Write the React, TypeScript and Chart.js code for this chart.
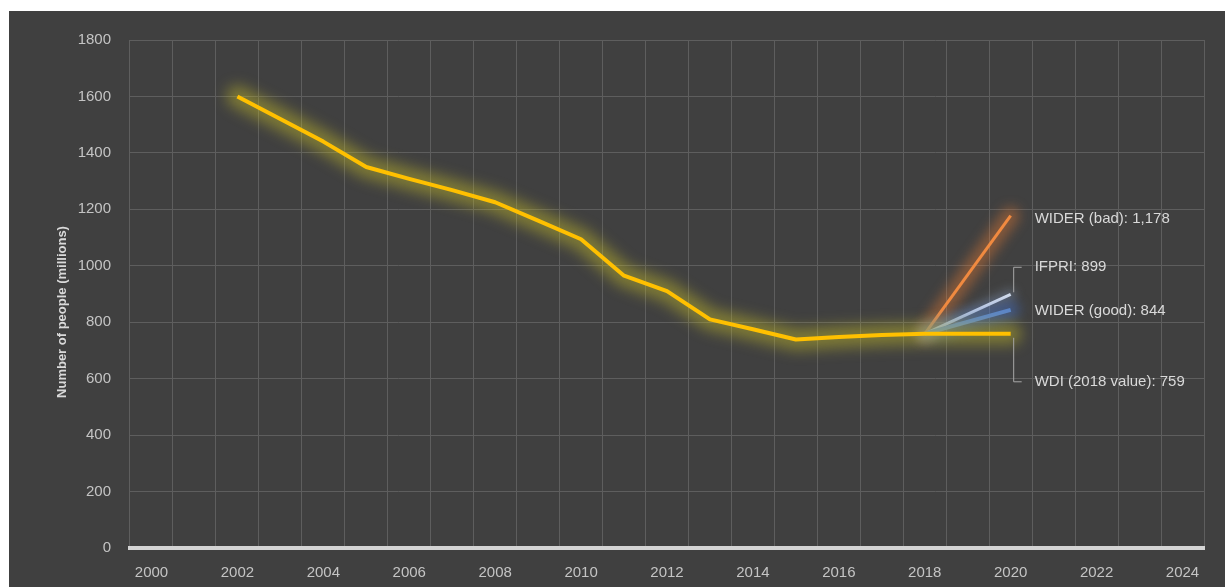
import React, { useEffect, useRef } from "react";
import { Chart, registerables } from "chart.js";

Chart.register(...registerables);

const years = [
  "2000", "2001", "2002", "2003", "2004", "2005", "2006", "2007", "2008", "2009",
  "2010", "2011", "2012", "2013", "2014", "2015", "2016", "2017", "2018", "2019",
  "2020", "2021", "2022", "2023", "2024",
];

const wdi = [
  null, null, 1600, 1520, 1440, 1350, 1308, 1268, 1225, 1160,
  1094, 965, 910, 810, 775, 739, 748, 755, 759, 759,
  759, null, null, null, null,
];

const widerBad = [
  null, null, null, null, null, null, null, null, null, null,
  null, null, null, null, null, null, null, null, 759, null,
  1178, null, null, null, null,
];

const ifpri = [
  null, null, null, null, null, null, null, null, null, null,
  null, null, null, null, null, null, null, null, 759, null,
  899, null, null, null, null,
];

const widerGood = [
  null, null, null, null, null, null, null, null, null, null,
  null, null, null, null, null, null, null, null, 759, null,
  844, null, null, null, null,
];

const endLabels = [
  "WIDER (bad): 1,178",
  "IFPRI: 899",
  "WIDER (good): 844",
  "WDI (2018 value): 759",
];
const endValues = [1178, 899, 844, 759];

const yTitle = "Number of people (millions)";

const glowPlugin = {
  id: "glow",
  beforeDatasetDraw(chart: any, args: any) {
    const ds: any = chart.data.datasets[args.index];
    if (!ds.glowColor) return;
    const ctx = chart.ctx;
    const pts = args.meta.data.filter((_p: any, i: number) => ds.data[i] != null);
    ctx.save();
    ctx.filter = `blur(${ds.glowBlur}px)`;
    ctx.strokeStyle = ds.glowColor;
    ctx.lineWidth = ds.glowWidth;
    ctx.lineJoin = "round";
    ctx.lineCap = "round";
    ctx.beginPath();
    pts.forEach((p: any, i: number) => (i ? ctx.lineTo(p.x, p.y) : ctx.moveTo(p.x, p.y)));
    ctx.stroke();
    ctx.restore();
  },
};

const labelPlugin = {
  id: "endLabels",
  afterDatasetsDraw(chart: any) {
    const ctx = chart.ctx;
    const xs = chart.scales.x;
    const ys = chart.scales.y;
    const endX = xs.getPixelForValue(20);
    const offsets = [3, -27, 1, 48];
    ctx.save();
    ctx.font = '15px "Liberation Sans", Arial, sans-serif';
    ctx.fillStyle = "#d9d9d9";
    ctx.textBaseline = "middle";
    ctx.textAlign = "left";
    ctx.strokeStyle = "#a6a6a6";
    ctx.lineWidth = 1;
    endLabels.forEach((t, i) => {
      const vy = ys.getPixelForValue(endValues[i]);
      const ly = vy + offsets[i];
      if (Math.abs(offsets[i]) > 10) {
        ctx.beginPath();
        ctx.moveTo(endX + 3, vy + (offsets[i] > 0 ? 4 : -2));
        ctx.lineTo(endX + 3, ly);
        ctx.lineTo(endX + 11, ly);
        ctx.stroke();
      }
      ctx.fillText(t, endX + 24, ly);
    });
    ctx.save();
    ctx.translate(53, 301);
    ctx.rotate(-Math.PI / 2);
    ctx.font = 'bold 13px "Liberation Sans", Arial, sans-serif';
    ctx.fillStyle = "#d9d9d9";
    ctx.textAlign = "center";
    ctx.fillText(yTitle, 0, 0);
    ctx.restore();
    ctx.restore();
  },
};

export default function App() {
  const ref = useRef<HTMLCanvasElement | null>(null);

  useEffect(() => {
    if (!ref.current) return;
    const chart = new Chart(ref.current, {
      type: "line",
      data: {
        labels: years,
        datasets: [
          {
            label: "WDI",
            data: wdi,
            borderColor: "#FFC000",
            borderWidth: 4,
            pointRadius: 0,
            tension: 0,
            borderJoinStyle: "round",
            glowColor: "rgba(200,190,40,0.45)",
            glowWidth: 22,
            glowBlur: 7,
          } as any,
          {
            label: "WIDER (good)",
            data: widerGood,
            borderColor: "#5B85C8",
            borderWidth: 4,
            pointRadius: 0,
            spanGaps: true,
            glowColor: "rgba(70,110,190,0.55)",
            glowWidth: 18,
            glowBlur: 6,
          } as any,
          {
            label: "IFPRI",
            data: ifpri,
            borderColor: "#D9E1EE",
            borderWidth: 3,
            pointRadius: 0,
            spanGaps: true,
            glowColor: "rgba(150,170,200,0.3)",
            glowWidth: 12,
            glowBlur: 5,
          } as any,
          {
            label: "WIDER (bad)",
            data: widerBad,
            borderColor: "#F08A40",
            borderWidth: 3,
            pointRadius: 0,
            spanGaps: true,
            glowColor: "rgba(237,125,49,0.4)",
            glowWidth: 18,
            glowBlur: 6,
          } as any,
        ],
      },
      options: {
        animation: false,
        responsive: false,
        maintainAspectRatio: false,
        layout: { padding: { top: 29, right: 21, bottom: 0, left: 0 } },
        plugins: {
          legend: { display: false },
          tooltip: { enabled: false },
        },
        scales: {
          x: {
            type: "category",
            offset: true,
            grid: { offset: true, color: "#5e5e5e", lineWidth: 1, drawTicks: false },
            border: { display: true, color: "#d4d4d4", width: 4 },
            ticks: {
              autoSkip: false,
              maxRotation: 0,
              padding: 16,
              color: "#c4c4c4",
              font: { family: '"Liberation Sans", Arial, sans-serif', size: 15 },
              callback: (_v: any, i: number) => (i % 2 === 0 ? years[i] : ""),
            },
            afterFit: (s: any) => {
              s.height = 39;
            },
          },
          y: {
            min: 0,
            max: 1800,
            grid: { color: "#5e5e5e", lineWidth: 1, drawTicks: false },
            border: { display: false },
            ticks: {
              stepSize: 200,
              padding: 19,
              color: "#c4c4c4",
              font: { family: '"Liberation Sans", Arial, sans-serif', size: 15 },
              callback: (v: any) => String(v),
            },
            afterFit: (s: any) => {
              s.width = 121;
            },
          },
        },
      },
      plugins: [glowPlugin, labelPlugin],
    } as any);
    return () => chart.destroy();
  }, []);

  return (
    <div
      style={{
        position: "absolute",
        left: 9,
        top: 11,
        width: 1216,
        height: 576,
        background: "#404040",
      }}
    >
      <canvas ref={ref} width={1216} height={576} style={{ display: "block" }} />
    </div>
  );
}
